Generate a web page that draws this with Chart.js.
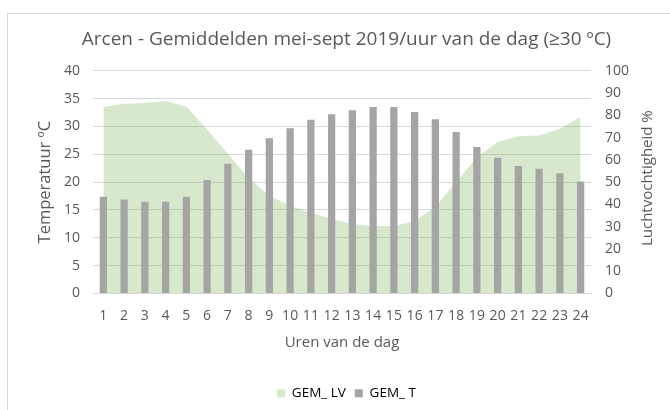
<!DOCTYPE html>
<html>
<head>
<meta charset="utf-8">
<script src="https://cdn.jsdelivr.net/npm/chart.js@4.4.1/dist/chart.umd.min.js"></script>
<style>
  body { margin: 0; background: #fff; }
  #frame { position: absolute; left: 7px; top: 13px; width: 680px; height: 420px; border: 1px solid #d9d9d9; }
  #wrap { position: absolute; left: 0; top: 0; width: 670px; height: 410px; }
</style>
</head>
<body>
<div id="frame"></div>
<div id="wrap"><canvas id="chart" width="670" height="410"></canvas></div>
<script>
const hours = ['1','2','3','4','5','6','7','8','9','10','11','12','13','14','15','16','17','18','19','20','21','22','23','24'];
// gemiddelde temperatuur per uur (ºC)
const gemT = [17.4, 16.9, 16.5, 16.5, 17.4, 20.4, 23.3, 25.8, 27.9, 29.7, 31.2, 32.2,
              32.9, 33.5, 33.5, 32.6, 31.3, 29.0, 26.3, 24.4, 22.9, 22.4, 21.6, 20.1];
// gemiddelde luchtvochtigheid per uur (%)
const gemLV = [83.7, 85.2, 85.5, 86.4, 84.0, 73.6, 62.7, 51.9, 43.9, 39.4, 36.3, 33.5,
               31.2, 30.3, 30.3, 32.6, 39.0, 49.9, 61.2, 68.0, 70.6, 71.0, 74.0, 79.3];

const txt = '#595959';
const fam = 'Open Sans';

// right axis title reads bottom-to-top like the left one
const rightTitle = {
  id: 'rightTitle',
  afterDraw(chart) {
    const ctx = chart.ctx;
    ctx.save();
    ctx.translate(648, (chart.chartArea.top + chart.chartArea.bottom) / 2 - 4);
    ctx.rotate(-Math.PI / 2);
    ctx.font = '15px "' + fam + '"';
    ctx.fillStyle = txt;
    ctx.textAlign = 'center';
    ctx.textBaseline = 'middle';
    ctx.fillText('Luchtvochtigheid %', 0, 0);
    ctx.restore();
  }
};

new Chart(document.getElementById('chart'), {
  data: {
    labels: hours,
    datasets: [
      {
        type: 'line',
        label: 'GEM_ LV',
        data: gemLV,
        yAxisID: 'y1',
        fill: 'origin',
        backgroundColor: 'rgba(112,173,71,0.28)',
        borderWidth: 0,
        pointRadius: 0,
        tension: 0,
        order: 2
      },
      {
        type: 'bar',
        label: 'GEM_ T',
        data: gemT,
        yAxisID: 'y',
        backgroundColor: '#a5a5a5',
        barPercentage: 1,
        categoryPercentage: 0.35,
        order: 1
      }
    ]
  },
  options: {
    responsive: false,
    animation: false,
    layout: { padding: { left: 35, right: 12, top: 13, bottom: 0 } },
    plugins: {
      title: {
        display: true,
        text: 'Arcen - Gemiddelden mei-sept 2019/uur van de dag (≥30 ºC)',
        color: txt,
        font: { family: fam, size: 19, weight: 'normal' },
        padding: { top: 15, bottom: 20 }
      },
      legend: {
        position: 'bottom',
        labels: {
          color: txt,
          font: { family: fam, size: 13.5 },
          boxWidth: 8,
          boxHeight: 8,
          padding: 9,
          generateLabels(chart) {
            return chart.data.datasets.map((d, i) => ({
              text: d.label,
              fillStyle: i === 0 ? '#d7e9cb' : '#a5a5a5',
              strokeStyle: 'transparent',
              lineWidth: 0,
              datasetIndex: i
            }));
          }
        }
      },
      tooltip: { enabled: false }
    },
    scales: {
      x: {
        grid: { display: false, drawTicks: false },
        border: { color: '#d9d9d9' },
        ticks: { color: txt, font: { family: fam, size: 14 }, padding: 14, maxRotation: 0, autoSkip: false },
        title: { display: true, text: 'Uren van de dag', color: txt, font: { family: fam, size: 15 }, padding: { top: 0, bottom: 26 } },
        afterFit(s) { s.height = 84; }
      },
      y: {
        position: 'left',
        min: 0, max: 40,
        ticks: { stepSize: 5, color: txt, font: { family: fam, size: 14 }, padding: 13 },
        grid: { color: '#d9d9d9', drawTicks: false },
        border: { display: false },
        title: { display: true, text: 'Temperatuur ºC', color: txt, font: { family: fam, size: 16.5 }, padding: { top: 0, bottom: 0 } },
        afterFit(s) { s.width = 58; }
      },
      y1: {
        position: 'right',
        min: 0, max: 100,
        ticks: { stepSize: 10, color: txt, font: { family: fam, size: 14 }, padding: 14 },
        grid: { drawOnChartArea: false, drawTicks: false },
        border: { display: false },
        afterFit(s) { s.width = 67; }
      }
    }
  },
  plugins: [rightTitle]
});
</script>
</body>
</html>
